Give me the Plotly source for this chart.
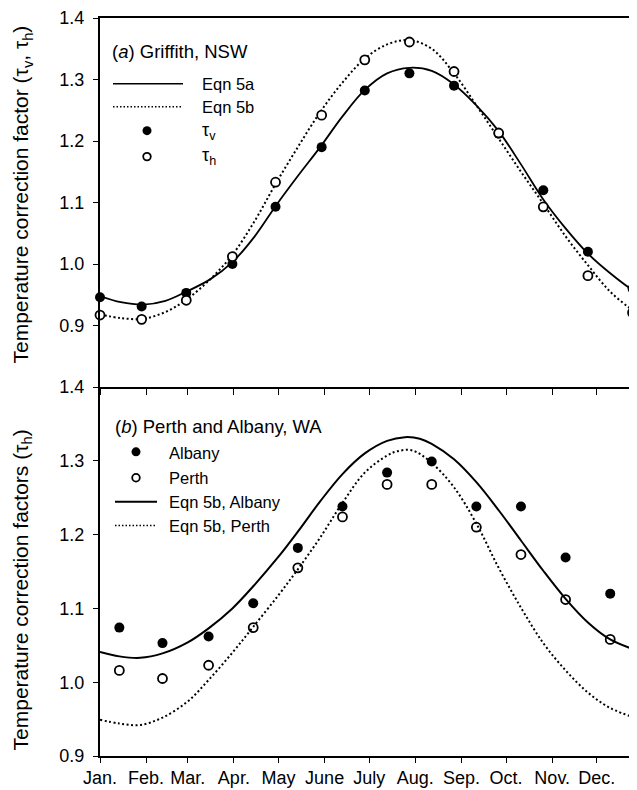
import plotly.graph_objects as go

# ---------------- data ----------------
month_start_days = [0, 31, 59, 90, 120, 151, 181, 212, 243, 273, 304, 334]
month_labels = ["Jan.", "Feb.", "Mar.", "Apr.", "May", "June", "July",
                "Aug.", "Sep.", "Oct.", "Nov.", "Dec."]

# Panel (a) Griffith, NSW
griffith_days = [0, 28, 58, 89, 118, 149, 178, 208, 238, 268, 298, 328, 358]
tau_v = [0.946, 0.931, 0.953, 1.000, 1.093, 1.190, 1.282, 1.310, 1.290, 1.212, 1.120, 1.020, 0.960]
tau_h = [0.917, 0.910, 0.941, 1.012, 1.133, 1.242, 1.332, 1.361, 1.313, 1.213, 1.093, 0.981, 0.921]

curve_a_days = [0, 14, 29, 44, 58, 74, 89, 104, 118, 133, 148, 163, 178, 193,
                208, 223, 238, 253, 268, 283, 298, 313, 328, 343, 358, 361]
eqn5a = [0.948, 0.938, 0.934, 0.940, 0.955, 0.975, 1.003, 1.045, 1.094, 1.143,
         1.190, 1.240, 1.283, 1.310, 1.319, 1.314, 1.292, 1.258, 1.216, 1.162,
         1.105, 1.058, 1.017, 0.985, 0.958, 0.955]
eqn5b = [0.918, 0.912, 0.911, 0.922, 0.942, 0.975, 1.015, 1.070, 1.130, 1.190,
         1.247, 1.295, 1.334, 1.357, 1.364, 1.350, 1.310, 1.258, 1.204, 1.150,
         1.098, 1.045, 0.998, 0.955, 0.925, 0.921]

# Panel (b) Perth and Albany, WA
wa_days = [13, 42, 73, 103, 133, 163, 193, 223, 253, 283, 313, 343]
albany = [1.074, 1.053, 1.062, 1.107, 1.182, 1.238, 1.284, 1.299, 1.238, 1.238, 1.169, 1.120]
perth = [1.016, 1.005, 1.023, 1.074, 1.155, 1.224, 1.268, 1.268, 1.210, 1.173, 1.112, 1.058]

albany_curve_days = [0, 13, 27, 42, 59, 73, 89, 103, 120, 133, 148, 163, 178,
                     193, 205, 215, 223, 238, 253, 268, 283, 298, 313, 328, 343, 361]
eqn5b_albany = [1.041, 1.035, 1.033, 1.039, 1.054, 1.073, 1.100, 1.130, 1.170,
                1.204, 1.245, 1.282, 1.310, 1.327, 1.332, 1.330, 1.323, 1.302,
                1.271, 1.233, 1.192, 1.151, 1.113, 1.081, 1.058, 1.043]
perth_curve_days = [0, 13, 27, 42, 59, 73, 89, 103, 120, 133, 148, 163, 178,
                    193, 200, 210, 223, 238, 253, 268, 283, 298, 313, 328, 343, 361]
eqn5b_perth = [0.949, 0.944, 0.942, 0.952, 0.974, 1.003, 1.040, 1.075, 1.118,
               1.153, 1.196, 1.243, 1.284, 1.307, 1.313, 1.314, 1.297, 1.264,
               1.215, 1.155, 1.101, 1.053, 1.016, 0.986, 0.965, 0.951]

yticks = [0.9, 1.0, 1.1, 1.2, 1.3, 1.4]

# ---------------- figure ----------------
# The page body adds an 8 px margin; the figure is sized/margined to compensate.
BODY = 8
W, H = 637, 790
ML, MR, MT, MB = 100, 0, 16, 34
PW, PH = W - ML - MR, H - MT - MB
FONT = "Liberation Sans, Arial, Helvetica, sans-serif"
DOT = "2px,2.5px"

def px(x):
    return (x - ML) / PW

def py(y):
    return (H - MB - y) / PH

fig = go.Figure()

# top panel
fig.add_trace(go.Scatter(x=curve_a_days, y=eqn5a, mode="lines",
                         line=dict(color="black", width=1.8, shape="spline"),
                         xaxis="x2", yaxis="y2", showlegend=False))
fig.add_trace(go.Scatter(x=curve_a_days, y=eqn5b, mode="lines",
                         line=dict(color="black", width=2, dash=DOT, shape="spline"),
                         xaxis="x2", yaxis="y2", showlegend=False))
fig.add_trace(go.Scatter(x=griffith_days, y=tau_v, mode="markers",
                         marker=dict(color="black", size=10, line=dict(width=0)),
                         xaxis="x2", yaxis="y2", cliponaxis=False, showlegend=False))
fig.add_trace(go.Scatter(x=griffith_days, y=tau_h, mode="markers",
                         marker=dict(color="white", size=9, line=dict(color="black", width=1.8)),
                         xaxis="x2", yaxis="y2", cliponaxis=False, showlegend=False))

# bottom panel
fig.add_trace(go.Scatter(x=wa_days, y=albany, mode="markers",
                         marker=dict(color="black", size=10, line=dict(width=0)),
                         xaxis="x", yaxis="y", cliponaxis=False, showlegend=False))
fig.add_trace(go.Scatter(x=wa_days, y=perth, mode="markers",
                         marker=dict(color="white", size=9, line=dict(color="black", width=1.8)),
                         xaxis="x", yaxis="y", cliponaxis=False, showlegend=False))
fig.add_trace(go.Scatter(x=albany_curve_days, y=eqn5b_albany, mode="lines",
                         line=dict(color="black", width=2, shape="spline"),
                         xaxis="x", yaxis="y", showlegend=False))
fig.add_trace(go.Scatter(x=perth_curve_days, y=eqn5b_perth, mode="lines",
                         line=dict(color="black", width=2, dash=DOT, shape="spline"),
                         xaxis="x", yaxis="y", showlegend=False))

axis_common = dict(showgrid=False, zeroline=False, showline=True, linecolor="black",
                   ticks="outside", tickcolor="black",
                   tickfont=dict(family=FONT, size=18, color="black"))

fig.update_layout(
    width=W - BODY, height=H - BODY,
    margin=dict(l=ML - BODY, r=MR, t=MT - BODY, b=MB),
    paper_bgcolor="white", plot_bgcolor="white",
    xaxis=dict(**axis_common, domain=[0, 1], range=[0, 361], anchor="y",
               tickvals=month_start_days, ticktext=month_labels, ticklen=5,
               linewidth=1.6, tickwidth=1.3),
    yaxis=dict(**axis_common, domain=[0, 0.5], range=[0.9, 1.4], anchor="x",
               tickvals=yticks, tickformat=".1f", ticklen=5, linewidth=2, tickwidth=1.3,
               ticklabelstandoff=5),
    xaxis2=dict(**axis_common, domain=[0, 1], range=[0, 361], anchor="y2",
                tickvals=month_start_days, showticklabels=False, ticklen=6,
                linewidth=2, tickwidth=1.3, mirror=True),
    yaxis2=dict(**axis_common, domain=[0.5, 1], range=[0.8, 1.4], anchor="x2",
                tickvals=yticks, tickformat=".1f", ticklen=5, linewidth=2, tickwidth=1.3,
                ticklabelstandoff=5),
)

ann = []
def text(x, y, s, size=16.5, anchor="left"):
    ann.append(dict(x=px(x), y=py(y), xref="paper", yref="paper", text=s, showarrow=False,
                    xanchor=anchor, yanchor="middle", font=dict(family=FONT, size=size, color="black")))

# axis titles
ann.append(dict(x=px(22), y=py(193), xref="paper", yref="paper", showarrow=False, textangle=-90,
                text="Temperature correction factor (τ<sub>v</sub>, τ<sub>h</sub>)",
                xanchor="center", yanchor="middle", font=dict(family=FONT, size=21, color="black")))
ann.append(dict(x=px(22), y=py(590), xref="paper", yref="paper", showarrow=False, textangle=-90,
                text="Temperature correction factors (τ<sub>h</sub>)",
                xanchor="center", yanchor="middle", font=dict(family=FONT, size=21, color="black")))

# top legend
text(110, 50, "(<i>a</i>) Griffith, NSW", size=18.5)
text(200, 82, "Eqn 5a")
text(200, 105, "Eqn 5b")
text(200, 130, "τ<sub>v</sub>", size=18)
text(200, 155, "τ<sub>h</sub>", size=18)
# bottom legend
text(113, 426, "(<i>b</i>) Perth and Albany, WA", size=18.5)
text(167, 452, "Albany")
text(167, 477, "Perth")
text(167, 501, "Eqn 5b, Albany")
text(167, 525, "Eqn 5b, Perth")

shapes = []
def hline(x0, x1, y, dash=None, width=1.6):
    d = dict(type="line", xref="paper", yref="paper", x0=px(x0), x1=px(x1), y0=py(y), y1=py(y),
             line=dict(color="black", width=width))
    if dash:
        d["line"]["dash"] = dash
    shapes.append(d)

def circ(x, y, r, filled):
    shapes.append(dict(type="circle", xref="paper", yref="paper",
                       x0=px(x - r), x1=px(x + r), y0=py(y + r), y1=py(y - r),
                       fillcolor="black" if filled else "white",
                       line=dict(color="black", width=0 if filled else 1.8)))

hline(113, 183, 82, width=1.5)
hline(113, 183, 105, dash="1.5px,2px", width=1.5)
circ(147, 129, 4.5, True)
circ(147, 155, 3.8, False)

circ(136, 451, 4.5, True)
circ(136, 477, 3.8, False)
hline(115, 157, 501, width=2)
hline(115, 157, 525, dash="1.5px,2px", width=1.5)

fig.update_layout(annotations=ann, shapes=shapes)

fig.write_html("out.html")
